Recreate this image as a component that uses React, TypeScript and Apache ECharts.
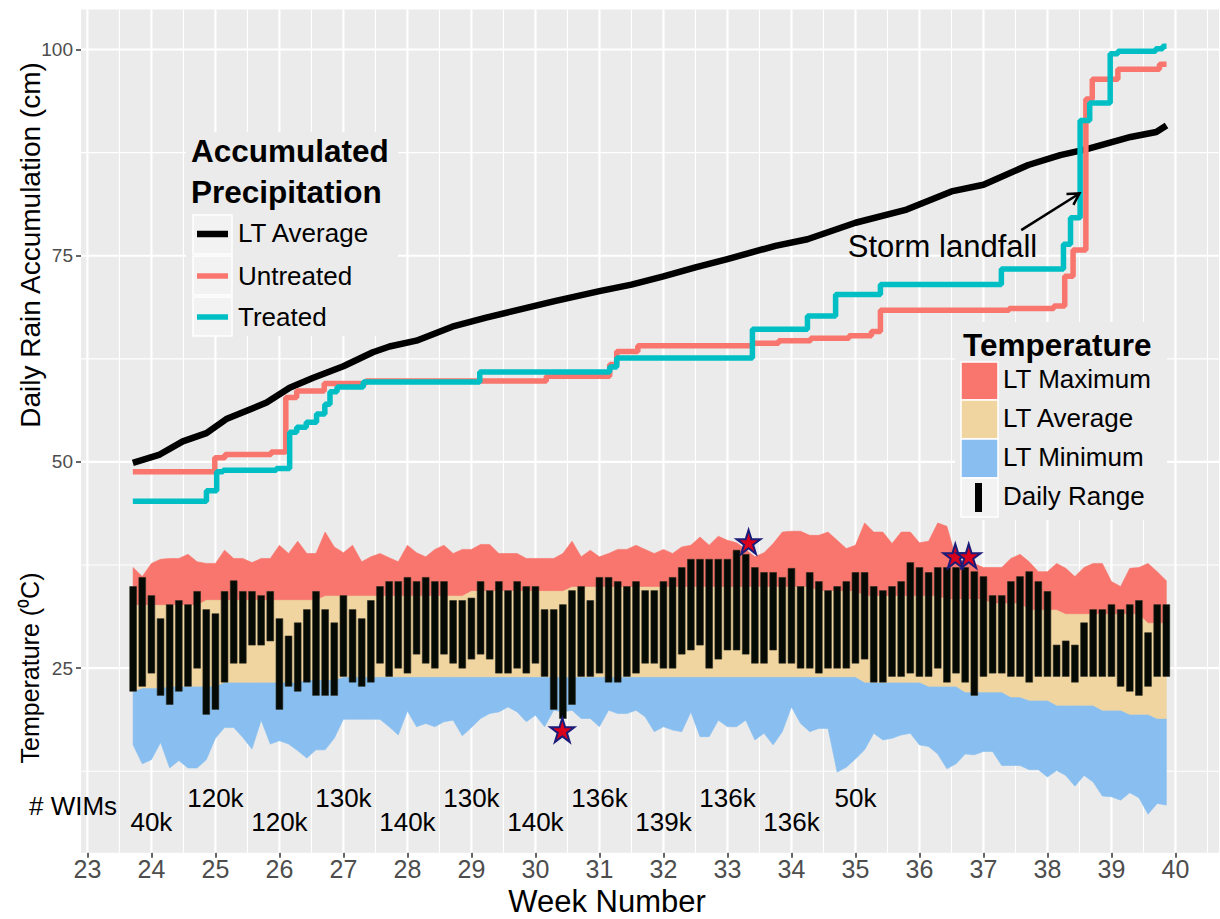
import React, { useEffect, useRef } from "react";
import * as echarts from "echarts";

// ---------------- Data ----------------
// Daily temperature records start on day 5 of week 23 (one bar per day)
const firstDayWeek = 23 + 5 / 7;

const dailyHigh = [
  34.9, 36.0, 33.8, 31.0, 32.7, 33.2, 32.7, 34.3, 32.1, 31.6,
  34.3, 35.6, 34.3, 34.3, 33.8, 34.3, 31.0, 28.9, 30.5, 32.1,
  34.3, 32.1, 30.5, 33.8, 32.1, 31.0, 33.2, 34.9, 35.5, 35.5,
  36.0, 35.5, 36.0, 35.5, 35.5, 33.2, 33.2, 33.5, 35.5, 34.4,
  35.5, 34.4, 35.5, 34.9, 34.9, 32.1, 32.1, 32.7, 34.4, 34.9,
  33.2, 36.0, 36.0, 35.5, 34.9, 35.5, 34.4, 34.4, 35.5, 36.0,
  37.2, 38.2, 38.2, 38.2, 38.2, 38.2, 39.3, 38.8, 37.2, 36.6,
  36.6, 36.0, 37.1, 34.9, 36.6, 35.5, 34.4, 34.9, 35.5, 36.6,
  36.6, 34.9, 34.4, 34.9, 35.5, 37.8, 37.2, 36.6, 37.2, 37.2,
  37.2, 37.2, 36.7, 36.1, 33.8, 33.8, 35.5, 36.1, 36.7, 35.5,
  34.3, 27.8, 28.3, 27.8, 30.5, 32.1, 32.1, 32.7, 32.1, 32.7,
  33.2, 29.3, 32.7, 32.7,
];

const dailyLow = [
  22.2, 22.8, 24.4, 21.7, 20.6, 22.2, 22.8, 25.0, 19.4, 20.0,
  23.3, 25.6, 25.6, 27.8, 27.8, 28.3, 20.0, 22.8, 22.2, 23.3,
  21.7, 21.7, 21.7, 24.0, 23.3, 22.8, 23.3, 25.6, 24.0, 25.0,
  24.4, 26.7, 25.6, 25.0, 26.7, 25.6, 25.0, 26.1, 26.7, 26.1,
  24.4, 24.4, 25.0, 24.4, 25.6, 24.0, 20.0, 18.9, 20.6, 24.0,
  24.0, 24.4, 23.3, 23.3, 24.0, 24.4, 25.6, 25.6, 25.0, 25.0,
  26.7, 27.2, 27.8, 25.0, 26.1, 27.2, 27.2, 26.7, 25.6, 25.6,
  27.2, 25.6, 25.6, 25.0, 25.0, 24.4, 25.0, 25.0, 25.0, 25.6,
  26.1, 23.3, 23.3, 24.0, 24.0, 24.4, 24.0, 24.0, 25.0, 23.3,
  24.4, 23.3, 21.7, 24.0, 24.4, 24.4, 24.0, 24.0, 23.3, 24.0,
  24.0, 24.0, 24.0, 23.3, 24.0, 24.0, 24.0, 24.0, 22.8, 22.2,
  21.7, 22.8, 24.0, 24.0,
];

// Long-term (LT) temperature envelopes, per day
const ltMaxHigh = [
  37.2, 36.1, 37.7, 38.2, 38.3, 38.3, 38.8, 37.9, 37.7, 37.7,
  39.3, 38.3, 38.3, 37.8, 38.3, 38.3, 39.9, 38.9, 40.4, 38.9,
  38.9, 41.5, 39.7, 39.0, 39.9, 37.9, 38.5, 38.9, 38.4, 37.9,
  39.9, 39.0, 38.5, 39.4, 39.9, 38.9, 39.4, 39.4, 40.0, 40.0,
  38.9, 38.9, 38.9, 38.3, 38.3, 38.3, 38.3, 38.9, 40.4, 38.5,
  39.3, 38.5, 38.9, 39.4, 39.4, 39.9, 39.4, 38.9, 39.4, 38.9,
  39.7, 39.9, 40.9, 39.9, 41.0, 40.5, 40.2, 39.4, 38.5, 39.0,
  40.1, 41.5, 41.6, 41.6, 41.1, 41.1, 41.5, 40.5, 39.5, 39.9,
  42.6, 41.5, 41.5, 40.1, 41.5, 41.5, 40.2, 40.4, 42.6, 42.2,
  38.3, 37.9, 37.7, 37.2, 37.2, 37.2, 38.3, 38.8, 37.9, 36.7,
  36.7, 37.7, 37.1, 36.1, 37.2, 37.7, 37.7, 35.5, 34.9, 37.1,
  37.2, 37.7, 36.7, 35.6,
];

const ltAvgHigh = [
  32.7, 32.7, 32.7, 32.7, 32.7, 32.7, 32.7, 32.7, 33.3, 33.3,
  33.3, 33.3, 33.3, 33.3, 33.3, 33.3, 33.3, 33.3, 33.3, 33.3,
  33.3, 33.8, 33.8, 33.8, 33.8, 33.8, 33.8, 33.8, 33.8, 33.8,
  33.8, 33.8, 33.8, 33.8, 33.8, 33.8, 33.8, 34.4, 34.4, 34.4,
  34.4, 34.4, 34.4, 34.4, 34.4, 34.4, 34.4, 34.4, 34.9, 34.9,
  34.9, 34.9, 34.9, 34.9, 34.9, 34.9, 34.9, 34.9, 34.9, 34.9,
  34.9, 34.9, 34.9, 34.9, 34.9, 34.9, 34.9, 34.9, 34.9, 34.9,
  34.9, 34.9, 34.9, 34.9, 34.9, 34.4, 34.4, 34.4, 34.4, 34.4,
  33.8, 33.8, 33.8, 33.8, 33.8, 33.8, 33.8, 33.8, 33.8, 33.4,
  33.4, 33.4, 33.4, 33.4, 32.9, 32.9, 32.9, 32.9, 32.1, 32.1,
  32.1, 32.1, 31.6, 31.6, 31.6, 31.6, 31.6, 31.6, 31.6, 31.6,
  31.6, 30.5, 30.5, 30.5,
];

const ltAvgLow = [
  22.2, 22.6, 22.6, 22.6, 22.8, 22.8, 22.8, 22.8, 22.8, 22.8,
  23.3, 23.3, 23.3, 23.3, 23.3, 23.3, 23.3, 23.3, 23.3, 23.6,
  23.6, 23.6, 23.6, 23.95, 23.95, 23.95, 23.95, 23.95, 23.95, 23.95,
  23.95, 23.95, 23.95, 23.95, 23.95, 23.95, 23.95, 23.95, 23.95, 23.95,
  23.95, 23.95, 23.95, 23.95, 23.95, 23.95, 23.95, 23.95, 23.95, 23.95,
  23.95, 23.95, 23.95, 23.95, 23.95, 23.95, 23.95, 23.95, 23.95, 23.95,
  23.95, 23.95, 23.95, 23.95, 23.95, 23.95, 23.95, 23.95, 23.95, 23.95,
  23.95, 23.95, 23.95, 23.95, 23.95, 23.95, 23.95, 23.95, 23.95, 23.95,
  23.3, 23.3, 23.3, 23.3, 23.3, 23.3, 23.3, 22.8, 22.8, 22.8,
  22.8, 22.1, 22.1, 22.1, 22.1, 22.1, 21.5, 21.5, 21.1, 21.1,
  21.1, 20.5, 20.5, 20.5, 20.5, 20.5, 19.9, 19.9, 19.9, 19.4,
  19.4, 19.4, 18.9, 18.9,
];

const ltMinLow = [
  15.7, 13.4, 13.9, 16.0, 12.9, 13.8, 12.9, 12.9, 13.9, 16.5,
  17.8, 17.8, 16.6, 15.2, 18.7, 15.8, 16.2, 15.8, 15.0, 14.1,
  15.1, 15.1, 16.5, 18.8, 18.8, 18.8, 18.8, 18.8, 17.9, 16.9,
  19.8, 17.9, 18.3, 17.9, 18.5, 18.7, 16.8, 17.8, 18.9, 19.5,
  19.7, 20.3, 19.7, 18.5, 19.3, 17.9, 19.9, 19.7, 19.9, 18.9,
  18.9, 17.9, 19.9, 19.5, 19.5, 19.9, 19.1, 17.3, 17.9, 17.5,
  17.3, 19.7, 16.7, 16.7, 18.7, 17.9, 17.9, 18.7, 16.3, 17.1,
  15.7, 17.3, 20.3, 18.3, 17.3, 17.7, 17.7, 12.4, 13.0, 14.0,
  15.1, 17.1, 16.3, 16.5, 16.9, 17.1, 15.7, 15.5, 14.6, 12.8,
  13.4, 14.6, 14.5, 14.9, 14.9, 13.2, 13.2, 13.2, 12.7, 12.7,
  11.8, 12.6, 12.0, 10.7, 12.0, 11.2, 9.5, 9.4, 9.0, 9.9,
  9.3, 7.3, 8.6, 8.4,
];

// Accumulated precipitation (week, cm)
const ltAverageRain = [
  [23.71, 49.9], [24.13, 50.9], [24.49, 52.5], [24.86, 53.5], [25.17, 55.2],
  [25.8, 57.2], [26.16, 59.0], [26.53, 60.2], [27.0, 61.6], [27.46, 63.3],
  [27.72, 64.0], [28.14, 64.7], [28.7, 66.4], [29.23, 67.5], [29.6, 68.2],
  [30.3, 69.5], [31.0, 70.7], [31.5, 71.5], [32.0, 72.5], [32.5, 73.6],
  [33.0, 74.6], [33.75, 76.2], [34.25, 77.0], [35.0, 79.0], [35.8, 80.6],
  [36.5, 82.8], [37.0, 83.6], [37.7, 86.0], [38.2, 87.2], [38.6, 87.9],
  [39.3, 89.4], [39.7, 90.0], [39.86, 90.8],
];

const untreatedRain = [
  [23.71, 48.8], [24.99, 50.5], [25.15, 50.9], [25.87, 51.2], [26.1, 57.8],
  [26.27, 58.6], [26.7, 59.5], [27.35, 59.8], [30.17, 60.4], [31.16, 61.8],
  [31.27, 63.4], [31.6, 64.1], [33.4, 64.4], [33.8, 64.7], [34.3, 65.0],
  [34.9, 65.3], [35.25, 65.8], [35.39, 68.4], [37.4, 68.6], [38.1, 68.9],
  [38.27, 72.5], [38.4, 75.7], [38.6, 94.0], [38.7, 96.4], [39.1, 97.6],
  [39.75, 98.2], [39.86, 98.2],
];

const treatedRain = [
  [23.71, 45.25], [24.86, 46.5], [25.02, 48.8], [25.12, 49.0], [25.95, 49.2],
  [26.16, 53.6], [26.27, 54.2], [26.42, 54.8], [26.58, 55.8], [26.71, 57.0],
  [26.79, 58.5], [26.9, 59.1], [27.31, 59.7], [29.13, 60.9], [31.16, 61.5],
  [31.27, 62.6], [33.39, 66.1], [34.25, 67.7], [34.69, 70.3], [35.39, 71.5],
  [37.28, 73.4], [38.25, 76.4], [38.36, 79.6], [38.51, 91.4], [38.66, 93.5],
  [38.98, 99.5], [39.1, 99.8], [39.69, 100.1], [39.8, 100.4], [39.86, 100.4],
];

// Record temperature days (stars)
const recordDays = [[30.42, 17.5], [33.33, 40.3], [36.56, 38.6], [36.77, 38.6]];

// WIM counts per week
const wimWeeks = [24, 25, 26, 27, 28, 29, 30, 31, 32, 33, 34, 35];
const wimLabels = ["40k", "120k", "120k", "130k", "140k", "130k", "140k", "136k", "139k", "136k", "136k", "50k"];

// Storm annotation
const stormArrow = [[37.59, 78.1, 38.5, 82.55]];
const stormText = [[36.36, 76.1]];

// Axes
const xTickValues = [23, 24, 25, 26, 27, 28, 29, 30, 31, 32, 33, 34, 35, 36, 37, 38, 39, 40];
const xMinorGrid = [23.5, 24.5, 25.5, 26.5, 27.5, 28.5, 29.5, 30.5, 31.5, 32.5, 33.5, 34.5, 35.5, 36.5, 37.5, 38.5, 39.5, 40.5];
const yTickValues = [25, 50, 75, 100];
const yMinorGrid = [12.5, 37.5, 62.5, 87.5];

// ---------------- Layout / style constants ----------------
const X_MIN = 22.9;
const X_MAX = 40.68;
const Y_MIN = 2.63;
const Y_MAX = 104.85;
const WIM_Y_LOW = 6.4;
const WIM_Y_HIGH = 9.3;

const FONT = "Liberation Sans, Arial, Helvetica, sans-serif";
const C_RED = "#F8766D";
const C_CYAN = "#00BFC4";
const C_MAX = "#F8766D";
const C_AVG = "#F0D5A0";
const C_MIN = "#88BFF0";
const PANEL = "#EBEBEB";

const STAR_PATH =
  "path://M10,0 L12.245,6.91 L19.511,6.91 L13.633,11.18 L15.878,18.09 L10,13.82 L4.122,18.09 L6.367,11.18 L0.489,6.91 L7.755,6.91 Z";

function buildOption() {
  const days = dailyHigh.map((_, i) => firstDayWeek + i / 7);

  const gridData = [
    ...xTickValues.map((v) => [0, v, 1]),
    ...xMinorGrid.map((v) => [0, v, 0]),
    ...yTickValues.map((v) => [1, v, 1]),
    ...yMinorGrid.map((v) => [1, v, 0]),
  ];

  const bands = [
    { upper: ltAvgLow, lower: ltMinLow, color: C_MIN },
    { upper: ltAvgHigh, lower: ltAvgLow, color: C_AVG },
    { upper: ltMaxHigh, lower: ltAvgHigh, color: C_MAX },
  ];

  const txt = (
    text: string,
    x: number,
    y: number,
    size: number,
    opts: any = {}
  ) => ({
    type: "text",
    z: 100,
    x,
    y,
    rotation: opts.rotation || 0,
    style: {
      text,
      fill: opts.fill || "#000",
      fontSize: size,
      fontFamily: FONT,
      fontWeight: opts.bold ? "bold" : "normal",
      textAlign: opts.align || "left",
      align: opts.align || "left",
      textVerticalAlign: "middle",
      verticalAlign: "middle",
    },
  });

  const rect = (x: number, y: number, w: number, h: number, fill: string, stroke?: string) => ({
    type: "rect",
    z: 99,
    shape: { x, y, width: w, height: h },
    style: { fill, stroke: stroke || null, lineWidth: stroke ? 1.5 : 0 },
  });

  const seg = (x1: number, y1: number, x2: number, y2: number, color: string, w: number) => ({
    type: "line",
    z: 100,
    shape: { x1, y1, x2, y2 },
    style: { stroke: color, lineWidth: w },
  });

  const graphic = [
    // Legend 1: Accumulated precipitation
    rect(186, 132, 212, 204, PANEL),
    txt("Accumulated", 191, 151, 31.5, { bold: true }),
    txt("Precipitation", 191, 191.5, 31.5, { bold: true }),
    rect(193, 215, 39, 39, "#F2F2F2", "#FFFFFF"),
    rect(193, 256, 39, 39, "#F2F2F2", "#FFFFFF"),
    rect(193, 297, 39, 39, "#F2F2F2", "#FFFFFF"),
    seg(197, 234, 228, 234, "#000", 6.5),
    seg(197, 276, 228, 276, C_RED, 5.5),
    seg(197, 317, 228, 317, C_CYAN, 5.5),
    txt("LT Average", 238, 233, 26),
    txt("Untreated", 238, 276, 26),
    txt("Treated", 238, 317, 26),

    // Legend 2: Temperature
    rect(955, 322, 212, 198, PANEL),
    txt("Temperature", 963, 345, 31.5, { bold: true }),
    rect(961, 362, 37, 38, C_MAX, "#FFFFFF"),
    rect(961, 400, 37, 39, C_AVG, "#FFFFFF"),
    rect(961, 439, 37, 39, C_MIN, "#FFFFFF"),
    rect(961, 478, 37, 39, "#F2F2F2", "#FFFFFF"),
    rect(975, 483, 7, 29, "#000"),
    txt("LT Maximum", 1003, 379, 26),
    txt("LT Average", 1003, 418, 26),
    txt("LT Minimum", 1003, 457, 26),
    txt("Daily Range", 1003, 496, 26),

    // Axis titles and side label
    txt("Week Number", 607, 901, 31, { align: "center" }),
    txt("Daily Rain Accumulation (cm)", 30, 245, 28, { align: "center", rotation: Math.PI / 2 }),
    txt("Temperature (\u2070C)", 30, 668, 25, { align: "center", rotation: Math.PI / 2 }),
    txt("# WIMs", 73, 806, 26, { align: "center" }),
  ];

  return {
    animation: false,
    backgroundColor: "#FFFFFF",
    textStyle: { fontFamily: FONT },
    grid: {
      left: 81,
      right: 1,
      top: 9.5,
      bottom: 66.3,
      show: true,
      backgroundColor: PANEL,
      borderWidth: 0,
      containLabel: false,
    },
    xAxis: {
      type: "value",
      min: X_MIN,
      max: X_MAX,
      axisLine: { show: false },
      axisTick: { show: true, length: 5, customValues: xTickValues, lineStyle: { color: "#333333", width: 1.5 } },
      axisLabel: { customValues: xTickValues, color: "#4D4D4D", fontSize: 25, margin: 4, fontFamily: FONT },
      splitLine: { show: false },
    },
    yAxis: {
      type: "value",
      min: Y_MIN,
      max: Y_MAX,
      axisLine: { show: false },
      axisTick: { show: true, length: 5, customValues: yTickValues, lineStyle: { color: "#333333", width: 1.5 } },
      axisLabel: { customValues: yTickValues, color: "#4D4D4D", fontSize: 19, margin: 8, fontFamily: FONT },
      splitLine: { show: false },
    },
    graphic,
    series: [
      {
        name: "grid",
        type: "custom",
        z: 1,
        silent: true,
        data: gridData,
        renderItem: (params: any, api: any) => {
          const kind = api.value(0);
          const v = api.value(1);
          const major = api.value(2);
          const a = kind === 0 ? api.coord([v, Y_MIN]) : api.coord([X_MIN, v]);
          const b = kind === 0 ? api.coord([v, Y_MAX]) : api.coord([X_MAX, v]);
          return {
            type: "line",
            shape: { x1: a[0], y1: a[1], x2: b[0], y2: b[1] },
            style: { stroke: "#FFFFFF", lineWidth: major ? 2.2 : 1.1 },
          };
        },
      },
      {
        name: "bands",
        type: "custom",
        z: 2,
        silent: true,
        data: bands.map((_, i) => [i]),
        encode: { x: 0 },
        renderItem: (params: any, api: any) => {
          const b = bands[params.dataIndex];
          const pts: number[][] = [];
          days.forEach((d, i) => pts.push(api.coord([d, b.upper[i]])));
          for (let i = days.length - 1; i >= 0; i--) pts.push(api.coord([days[i], b.lower[i]]));
          return {
            type: "polygon",
            shape: { points: pts },
            style: { fill: b.color, stroke: b.color, lineWidth: 0.6 },
          };
        },
      },
      {
        name: "Daily Range",
        type: "custom",
        z: 3,
        silent: true,
        data: days.map((d, i) => [d, dailyLow[i], dailyHigh[i]]),
        encode: { x: 0, y: [1, 2] },
        renderItem: (params: any, api: any) => {
          const x = api.value(0);
          const top = api.coord([x, api.value(2)]);
          const bot = api.coord([x, api.value(1)]);
          const w = api.size([1 / 7, 0])[0] * 0.74;
          return {
            type: "rect",
            shape: { x: top[0] - w / 2, y: top[1], width: w, height: bot[1] - top[1] },
            style: { fill: "#050A05", stroke: "#2A2A1E", lineWidth: 0.6 },
          };
        },
      },
      {
        name: "LT Average",
        type: "line",
        z: 5,
        data: ltAverageRain,
        symbol: "none",
        lineStyle: { color: "#000000", width: 6.5, join: "round" },
      },
      {
        name: "Untreated",
        type: "line",
        z: 5,
        step: "end",
        data: untreatedRain,
        symbol: "none",
        lineStyle: { color: C_RED, width: 5.5 },
      },
      {
        name: "Treated",
        type: "line",
        z: 5,
        step: "end",
        data: treatedRain,
        symbol: "none",
        lineStyle: { color: C_CYAN, width: 5.5 },
      },
      {
        name: "Records",
        type: "scatter",
        z: 6,
        data: recordDays,
        symbol: STAR_PATH,
        symbolSize: 24,
        itemStyle: { color: "#D8001C", borderColor: "#1B1B7A", borderWidth: 2, opacity: 1 },
      },
      {
        name: "arrow",
        type: "custom",
        z: 7,
        silent: true,
        data: stormArrow,
        renderItem: (params: any, api: any) => {
          const p1 = api.coord([api.value(0), api.value(1)]);
          const p2 = api.coord([api.value(2), api.value(3)]);
          const ang = Math.atan2(p2[1] - p1[1], p2[0] - p1[0]);
          const L = 13;
          const s = Math.PI / 6;
          const h1 = [p2[0] - L * Math.cos(ang - s), p2[1] - L * Math.sin(ang - s)];
          const h2 = [p2[0] - L * Math.cos(ang + s), p2[1] - L * Math.sin(ang + s)];
          return {
            type: "group",
            children: [
              { type: "line", shape: { x1: p1[0], y1: p1[1], x2: p2[0], y2: p2[1] }, style: { stroke: "#000", lineWidth: 2.5 } },
              { type: "polyline", shape: { points: [h1, p2, h2] }, style: { stroke: "#000", lineWidth: 2.5, fill: null } },
            ],
          };
        },
      },
      {
        name: "stormText",
        type: "custom",
        z: 7,
        silent: true,
        data: stormText,
        renderItem: (params: any, api: any) => {
          const p = api.coord([api.value(0), api.value(1)]);
          return {
            type: "text",
            x: p[0],
            y: p[1],
            style: {
              text: "Storm landfall",
              fill: "#000",
              fontSize: 31,
              fontFamily: FONT,
              textAlign: "center",
              align: "center",
              textVerticalAlign: "middle",
              verticalAlign: "middle",
            },
          };
        },
      },
      {
        name: "WIMs",
        type: "custom",
        z: 7,
        silent: true,
        clip: false,
        data: wimWeeks.map((w, i) => [w, i % 2 === 0 ? WIM_Y_LOW : WIM_Y_HIGH]),
        renderItem: (params: any, api: any) => {
          const p = api.coord([api.value(0), api.value(1)]);
          return {
            type: "text",
            x: p[0],
            y: p[1],
            style: {
              text: wimLabels[params.dataIndex],
              fill: "#000",
              fontSize: 26,
              fontFamily: FONT,
              textAlign: "center",
              align: "center",
              textVerticalAlign: "middle",
              verticalAlign: "middle",
            },
          };
        },
      },
    ],
  };
}

export default function App() {
  const ref = useRef<HTMLDivElement>(null);
  useEffect(() => {
    if (!ref.current) return;
    const chart = echarts.init(ref.current, null, { renderer: "svg" });
    chart.setOption(buildOption() as any);
    return () => chart.dispose();
  }, []);
  return (
    <div
      ref={ref}
      style={{ position: "absolute", left: 0, top: 0, width: 1220, height: 919, background: "#fff" }}
    />
  );
}
